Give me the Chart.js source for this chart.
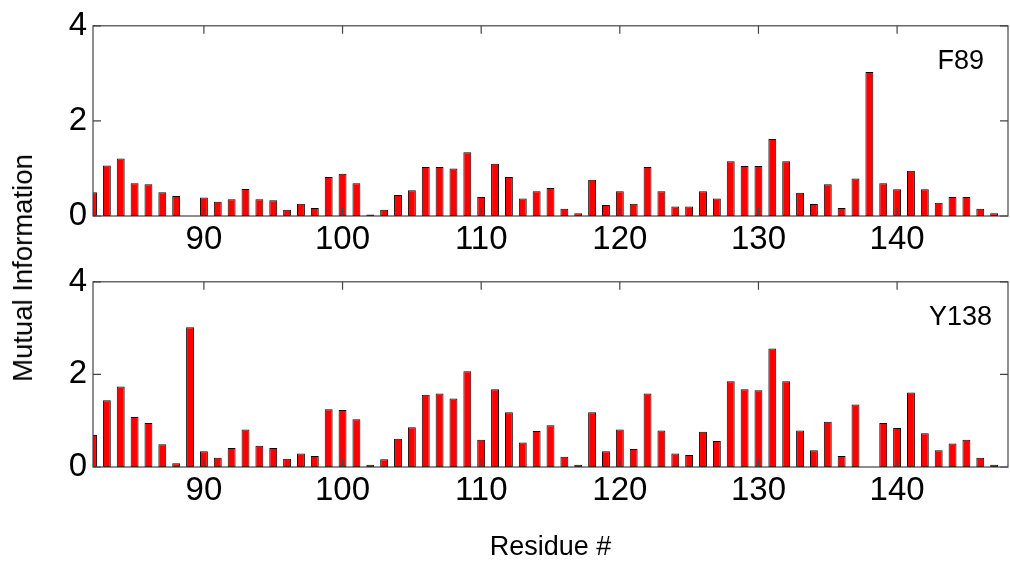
<!DOCTYPE html>
<html>
<head>
<meta charset="utf-8">
<script src="https://cdn.jsdelivr.net/npm/chart.js@4.4.1/dist/chart.umd.min.js"></script>
<style>
  body { margin: 0; background: #fff; }
  #wrap { position: relative; width: 1010px; height: 563px; font-family: 'Liberation Sans', Arial, sans-serif; }
  #wrap canvas { position: absolute; left: 0; }
  #ylabel {
    position: absolute; left: 23px; top: 268px;
    transform: translate(-50%, -50%) rotate(-90deg);
    font-size: 27.5px; white-space: nowrap; color: #000;
  }
</style>
</head>
<body>
<div id="wrap">
  <canvas id="f89Chart" width="1010" height="256" style="top:0"></canvas>
  <canvas id="y138Chart" width="1010" height="307" style="top:256px"></canvas>
  <div id="ylabel">Mutual Information</div>
</div>
<script>
const residues = [82, 83, 84, 85, 86, 87, 88, 89, 90, 91, 92, 93, 94, 95, 96, 97, 98, 99,
  100, 101, 102, 103, 104, 105, 106, 107, 108, 109, 110, 111, 112, 113, 114, 115, 116, 117,
  118, 119, 120, 121, 122, 123, 124, 125, 126, 127, 128, 129, 130, 131, 132, 133, 134, 135,
  136, 137, 138, 139, 140, 141, 142, 143, 144, 145, 146, 147];

const miF89 = [0.50, 1.06, 1.21, 0.69, 0.67, 0.50, 0.42, 0, 0.39, 0.30, 0.35, 0.57, 0.35, 0.33,
  0.13, 0.26, 0.17, 0.82, 0.89, 0.69, 0.03, 0.13, 0.44, 0.54, 1.03, 1.03, 1.00, 1.34, 0.40,
  1.10, 0.82, 0.37, 0.52, 0.59, 0.15, 0.06, 0.76, 0.23, 0.52, 0.26, 1.03, 0.52, 0.20, 0.20,
  0.52, 0.37, 1.15, 1.05, 1.05, 1.62, 1.15, 0.49, 0.25, 0.67, 0.17, 0.79, 3.03, 0.69, 0.56,
  0.95, 0.56, 0.28, 0.40, 0.40, 0.15, 0.06];

const miY138 = [0.69, 1.44, 1.74, 1.08, 0.95, 0.49, 0.08, 3.02, 0.34, 0.20, 0.41, 0.81, 0.46, 0.41,
  0.18, 0.29, 0.24, 1.25, 1.23, 1.03, 0.05, 0.17, 0.61, 0.86, 1.56, 1.59, 1.48, 2.07, 0.59,
  1.68, 1.18, 0.53, 0.78, 0.90, 0.22, 0.05, 1.18, 0.34, 0.81, 0.39, 1.59, 0.79, 0.29, 0.26,
  0.76, 0.56, 1.85, 1.68, 1.66, 2.56, 1.85, 0.79, 0.36, 0.98, 0.24, 1.35, 0, 0.95, 0.84,
  1.61, 0.73, 0.36, 0.51, 0.59, 0.20, 0.05];

const xTicks = [90, 100, 110, 120, 130, 140];
const yTicks = [0, 2, 4];

const FONT = "'Liberation Sans', Arial, sans-serif";

// box around the axes with inward tick marks, plus the panel name
const framePlugin = {
  id: 'frame',
  afterDatasetsDraw(chart, args, opts) {
    const { ctx, chartArea: a, scales: { x, y } } = chart;
    ctx.save();
    ctx.strokeStyle = '#444';
    ctx.lineWidth = 1.2;
    ctx.strokeRect(a.left, a.top, a.width, a.height);
    ctx.beginPath();
    xTicks.forEach(v => {
      const px = x.getPixelForValue(v);
      ctx.moveTo(px, a.bottom); ctx.lineTo(px, a.bottom - 8);
      ctx.moveTo(px, a.top); ctx.lineTo(px, a.top + 8);
    });
    yTicks.forEach(v => {
      const py = y.getPixelForValue(v);
      ctx.moveTo(a.left, py); ctx.lineTo(a.left + 8, py);
      ctx.moveTo(a.right, py); ctx.lineTo(a.right - 8, py);
    });
    ctx.stroke();
    ctx.fillStyle = '#000';
    ctx.font = '27px ' + FONT;
    ctx.textAlign = 'right';
    ctx.textBaseline = 'middle';
    ctx.fillText(opts.text, a.right - opts.dx, a.top + 36);
    ctx.restore();
  }
};

function makePanel(id, values, name, nameDx, padTop, xHeight, withTitle) {
  return new Chart(document.getElementById(id), {
    type: 'bar',
    data: {
      datasets: [{
        data: residues.map((r, i) => ({ x: r, y: values[i] })),
        backgroundColor: '#ff0000',
        borderColor: '#1a0000',
        borderWidth: 1,
        borderSkipped: false,
        barPercentage: 0.57,
        categoryPercentage: 1.0
      }]
    },
    options: {
      responsive: false,
      animation: false,
      devicePixelRatio: 1,
      layout: { padding: { top: padTop, right: 2, left: 0, bottom: 0 } },
      plugins: {
        legend: { display: false },
        tooltip: { enabled: false },
        frame: { text: name, dx: nameDx }
      },
      scales: {
        x: {
          type: 'linear',
          offset: false,
          min: 82,
          max: 148,
          afterBuildTicks: s => { s.ticks = xTicks.map(v => ({ value: v })); },
          afterFit: s => { s.height = xHeight; },
          grid: { display: false, drawTicks: false, offset: false },
          border: { display: false },
          ticks: { color: '#000', font: { family: FONT, size: 33 }, padding: 4, maxRotation: 0 },
          title: {
            display: withTitle,
            text: 'Residue #',
            color: '#000',
            font: { family: FONT, size: 27, lineHeight: 1 },
            padding: { top: 0, bottom: 2 }
          }
        },
        y: {
          min: 0,
          max: 4,
          afterBuildTicks: s => { s.ticks = yTicks.map(v => ({ value: v })); },
          afterFit: s => { s.width = 93; },
          grid: { display: false, drawTicks: false },
          border: { display: false },
          ticks: { color: '#000', font: { family: FONT, size: 33 }, padding: 6 }
        }
      }
    },
    plugins: [framePlugin]
  });
}

makePanel('f89Chart', miF89, 'F89', 24, 24, 40, false);
makePanel('y138Chart', miY138, 'Y138', 16, 21, 96, true);
</script>
</body>
</html>
